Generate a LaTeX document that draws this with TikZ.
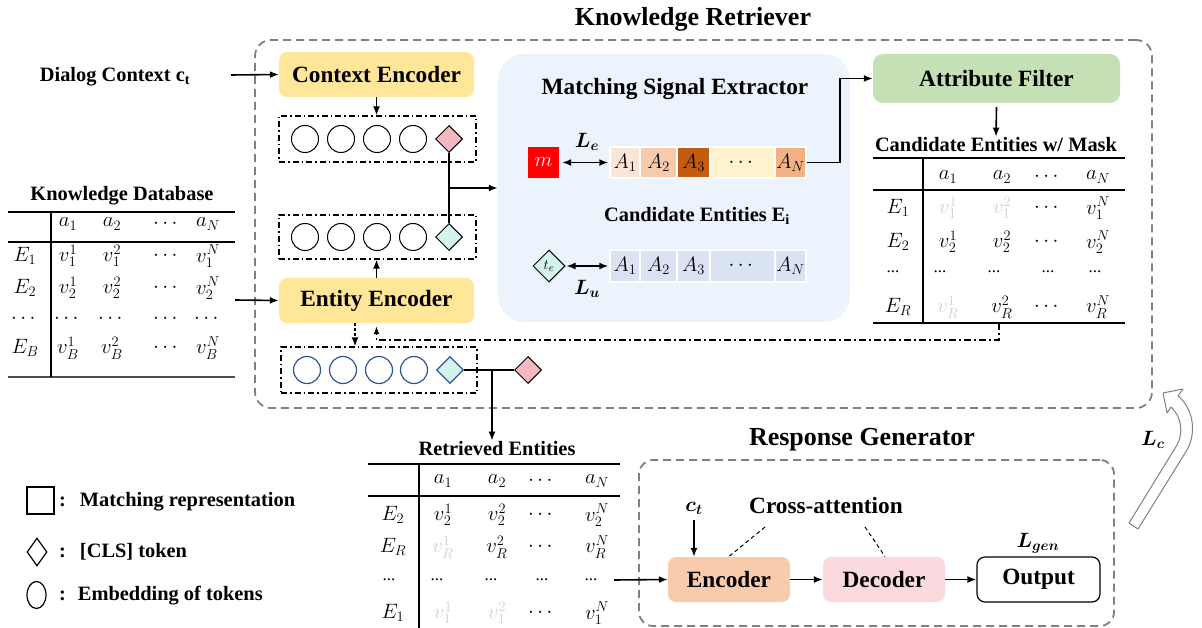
\documentclass[tikz,border=0pt]{standalone}
\usepackage{amsmath,bm}
\usepackage{fontspec}
\setmainfont{Liberation Serif}
\usetikzlibrary{shapes.geometric,arrows.meta,calc}

\definecolor{encyellow}{HTML}{FFE699}
\definecolor{afgreen}{HTML}{C5E0B4}
\definecolor{panelblue}{HTML}{EBF3FD}
\definecolor{clspink}{HTML}{F4B8C1}
\definecolor{clscyan}{HTML}{D4F2EE}
\definecolor{encorange}{HTML}{F8CBAD}
\definecolor{decpink}{HTML}{FADADF}
\definecolor{cellA}{HTML}{FBE5D6}
\definecolor{cellB}{HTML}{F8CBAD}
\definecolor{cellC}{HTML}{C55A11}
\definecolor{cellD}{HTML}{FFF2CC}
\definecolor{cellE}{HTML}{F4B183}
\definecolor{cellL}{HTML}{DAE3F3}
\definecolor{framegray}{HTML}{808080}
\definecolor{tokblue}{HTML}{2F5597}
\definecolor{maskgray}{HTML}{CFCFCF}

\newcommand\fTitle{\bfseries\fontsize{26}{30}\selectfont}
\newcommand\fBox{\bfseries\fontsize{23.3}{27}\selectfont}
\newcommand\fLbl{\bfseries\fontsize{20.4}{24}\selectfont}
\newcommand\fTab{\fontsize{21}{24}\selectfont}

\tikzset{
  ttl/.style={font=\fTitle, inner sep=1pt},
  lbl/.style={font=\fLbl, inner sep=1pt},
  blbl/.style={font=\fBox, inner sep=1pt},
  tcell/.style={font=\fTab, inner sep=0pt},
  frame/.style={draw=framegray, dash pattern=on 8pt off 5pt, line width=1.8pt, rounded corners=16pt},
  encbox/.style={rounded corners=8pt, fill=encyellow, minimum width=195pt, minimum height=45pt, font=\fBox},
  rowbox/.style={draw, line width=1.2pt, dash pattern=on 6pt off 3pt on 1.5pt off 3pt, minimum width=197pt, minimum height=46pt},
  tok/.style={circle, draw, line width=1pt, fill=white, minimum size=27pt, inner sep=0pt},
  btok/.style={tok, draw=tokblue, line width=1.2pt},
  cls/.style={diamond, draw, line width=1pt, minimum size=27pt, inner sep=0pt},
  cell/.style={draw=white, line width=1.5pt, minimum height=31pt, inner sep=0pt, font=\fontsize{22}{24}\selectfont},
  gbox/.style={rounded corners=8pt, minimum width=122pt, minimum height=45pt, font=\fBox},
  arr/.style={-{Latex[length=9pt,width=7pt]}, line width=1.6pt},
  darr/.style={{Latex[length=9pt,width=7pt]}-{Latex[length=9pt,width=7pt]}, line width=1.6pt},
  dashdot/.style={line width=1.4pt, dash pattern=on 7pt off 3pt on 2pt off 3pt},
  rule/.style={line width=1.2pt},
  lossl/.style={inner sep=0pt, font=\fontsize{22}{26}\selectfont},
}

\begin{document}
\begin{tikzpicture}[x=1pt,y=-1pt]
\useasboundingbox (0,0) rectangle (1202,628);

% ---------------- Knowledge Retriever ----------------
\node[frame, minimum width=897pt, minimum height=368pt] (kr) at (703.5,224) {};
\node[ttl] (krt) at (693,19) {Knowledge Retriever};

% matching signal panel (background)
\node[fill=panelblue, rounded corners=26pt, minimum width=352pt, minimum height=268pt] (mse) at (674,188) {};
\node[blbl] (mset) at (675,89) {Matching Signal Extractor};

% encoders
\node[lbl] (dlg) at (115,77) {Dialog Context c\textsubscript{t}};
\coordinate (dlgout) at (231,75);
\node[encbox] (ce) at (376.5,74.5) {Context Encoder};
\node[encbox] (ee) at (376.5,300.5) {Entity Encoder};

% token rows
\node[rowbox] (toprow) at (377.5,139) {};
\node[rowbox, minimum height=44pt] (midrow) at (377.5,237) {};
\node[rowbox, minimum width=196pt] (botrow) at (379,370) {};
\foreach \x [count=\i] in {305,341,377,413} {
  \node[tok] (t1-\i) at (\x,139) {};
  \node[tok] (t2-\i) at (\x,237) {};
}
\foreach \x [count=\i] in {307,343,379,414} {
  \node[btok] (t3-\i) at (\x,370) {};
}
\node[cls, fill=clspink] (pd1) at (449,139) {};
\node[cls, fill=clscyan] (cd1) at (449,237) {};
\node[cls, fill=clscyan, draw=tokblue, line width=1.2pt] (cd2) at (450,370) {};
\node[cls, fill=clspink] (pd2) at (528,370) {};

% connectors around the encoders
\draw[arr] (dlgout) -- (ce.west);
\draw[arr] (ce.south) -- (ce.south |- toprow.north);
\draw[arr] (ee.north) -- (ee.north |- midrow.south);
\draw[line width=1.6pt] (pd1.south) -- (cd1.north);
\coordinate (br1) at (449,188);
\draw[arr] (br1) -- (mse.west |- br1);
\draw[arr, dash pattern=on 3pt off 2pt] ([xshift=-21.5pt]ee.south) -- ([xshift=-24pt]botrow.north);
\draw[line width=1.6pt] (cd2.east) -- (pd2.west);

% ---------------- Knowledge Database table ----------------
\node[lbl] (kbt) at (122,196) {Knowledge Database};
\draw[rule] (8,212) -- (235,212);
\draw[rule] (8,242) -- (235,242);
\draw[rule, draw=black!70] (8,377) -- (235,377);
\draw[rule] (51,212) -- (51,377);
\foreach \x/\t [count=\i] in {68/a_1,112/a_2,167/\cdots,208/a_N}
  \node[tcell] (kb-h-\i) at (\x,224) {$\t$};
\foreach \y/\r [count=\i] in {256/1,288/2,348/B} {
  \node[tcell] (kb-\i-0) at (25,\y) {$E_{\r}$};
  \node[tcell] (kb-\i-1) at (68,\y) {$v_{\r}^{1}$};
  \node[tcell] (kb-\i-2) at (112,\y) {$v_{\r}^{2}$};
  \node[tcell] (kb-\i-3) at (167,\y) {$\cdots$};
  \node[tcell] (kb-\i-4) at (208,\y) {$v_{\r}^{N}$};
}
\foreach \x [count=\i] in {25,68,112,167,208}
  \node[tcell] (kb-d-\i) at (\x,319) {$\cdots$};
\coordinate (kbout) at (235,300);
\draw[arr] (kbout) -- (ee.west);

% ---------------- Matching signal extractor ----------------
\node[fill=red, minimum size=31pt, inner sep=0pt, text=white, font=\fontsize{22}{24}\selectfont] (m) at (543.5,162.5) {$m$};
\node[cell, fill=cellA, minimum width=30pt] (a1) at (625,162.5) {$A_1$};
\node[cell, fill=cellB, minimum width=37pt] (a2) at (658.5,162.5) {$A_2$};
\node[cell, fill=cellC, minimum width=33pt] (a3) at (693.5,162.5) {$A_3$};
\node[cell, fill=cellD, minimum width=65pt] (a4) at (742.5,162.5) {$\cdots$};
\node[cell, fill=cellE, minimum width=31pt] (an) at (790.5,162.5) {$A_N$};
\draw[darr] ([xshift=3pt]m.east) -- ([xshift=-1pt]a1.west);
\node[lossl] (le) at (587,142) {$\bm{L_e}$};

\node[blbl, font=\fLbl] (cet) at (697,216) {Candidate Entities E\textsubscript{i}};

\node[cls, fill=clscyan, minimum size=32pt, font=\fontsize{15}{17}\selectfont] (te) at (549,266) {$t_e$};
\node[cell, fill=cellL, minimum height=32pt, minimum width=30pt] (b1) at (625,266) {$A_1$};
\node[cell, fill=cellL, minimum height=32pt, minimum width=37pt] (b2) at (658.5,266) {$A_2$};
\node[cell, fill=cellL, minimum height=32pt, minimum width=33pt] (b3) at (693.5,266) {$A_3$};
\node[cell, fill=cellL, minimum height=32pt, minimum width=65pt] (b4) at (742.5,266) {$\cdots$};
\node[cell, fill=cellL, minimum height=32pt, minimum width=31pt] (bn) at (790.5,266) {$A_N$};
\draw[darr] ([xshift=1pt]te.east) -- ([xshift=-1pt]b1.west);
\node[lossl] (lu) at (587,289) {$\bm{L_u}$};

% ---------------- Attribute filter ----------------
\node[rounded corners=10pt, fill=afgreen, minimum width=247pt, minimum height=49pt, font=\fBox] (af) at (996.5,78.5) {Attribute Filter};
\draw[arr] (an.east) -- ++(33,0) |- (af.west);
\node[lbl] (candt) at (996,145) {Candidate Entities w/ Mask};
\draw[arr] ([yshift=-4pt]af.south) -- (candt.north);

\draw[rule] (873,158) -- (1125,158);
\draw[rule] (873,190) -- (1125,190);
\draw[rule] (873,323) -- (1125,323);
\draw[rule] (923,158) -- (923,323);
\foreach \x/\t [count=\i] in {948/a_1,1002/a_2,1048/\cdots,1098/a_N}
  \node[tcell] (cf-h-\i) at (\x,177) {$\t$};
\node[tcell] (cf-1-0) at (898,208) {$E_1$};
\node[tcell, text=maskgray] (cf-1-1) at (948,208) {$v_1^1$};
\node[tcell, text=maskgray] (cf-1-2) at (1002,208) {$v_1^2$};
\node[tcell] (cf-1-3) at (1048,208) {$\cdots$};
\node[tcell] (cf-1-4) at (1098,208) {$v_1^N$};
\node[tcell] (cf-2-0) at (898,242) {$E_2$};
\node[tcell] (cf-2-1) at (948,242) {$v_2^1$};
\node[tcell] (cf-2-2) at (1002,242) {$v_2^2$};
\node[tcell] (cf-2-3) at (1048,242) {$\cdots$};
\node[tcell] (cf-2-4) at (1098,242) {$v_2^N$};
\foreach \x [count=\i] in {893,940,994,1048,1095}
  \node[tcell, font=\fontsize{17}{20}\selectfont] (cf-d-\i) at (\x,272) {...};
\node[tcell] (cf-3-0) at (898,307) {$E_R$};
\node[tcell, text=maskgray] (cf-3-1) at (948,307) {$v_R^1$};
\node[tcell] (cf-3-2) at (1002,307) {$v_R^2$};
\node[tcell] (cf-3-3) at (1048,307) {$\cdots$};
\node[tcell] (cf-3-4) at (1098,307) {$v_R^N$};

% masked entities fed back to the entity encoder
\coordinate (cfb) at (999,323);
\draw[dashdot, -{Latex[length=8pt,width=6pt]}] (cfb) -- ++(0,17) -| ([yshift=-3pt]ee.south);

% ---------------- Retrieved entities ----------------
\node[lbl] (rett) at (497,449) {Retrieved Entities};
\coordinate (br2) at (492,370);
\draw[arr] (br2) -- (br2 |- rett.north);
\draw[rule] (368,464) -- (620,464);
\draw[rule] (368,496) -- (620,496);
\draw[rule] (419,464) -- (419,628);
\foreach \x/\t [count=\i] in {443/a_1,497/a_2,542/\cdots,597/a_N}
  \node[tcell] (re-h-\i) at (\x,481) {$\t$};
\node[tcell] (re-1-0) at (393,515) {$E_2$};
\node[tcell] (re-1-1) at (443,515) {$v_2^1$};
\node[tcell] (re-1-2) at (497,515) {$v_2^2$};
\node[tcell] (re-1-3) at (542,515) {$\cdots$};
\node[tcell] (re-1-4) at (597,515) {$v_2^N$};
\node[tcell] (re-2-0) at (393,547) {$E_R$};
\node[tcell, text=maskgray] (re-2-1) at (443,547) {$v_R^1$};
\node[tcell] (re-2-2) at (497,547) {$v_R^2$};
\node[tcell] (re-2-3) at (542,547) {$\cdots$};
\node[tcell] (re-2-4) at (597,547) {$v_R^N$};
\foreach \x [count=\i] in {389,437,491,542,591}
  \node[tcell, font=\fontsize{17}{20}\selectfont] (re-d-\i) at (\x,580) {...};
\node[tcell] (re-3-0) at (393,613) {$E_1$};
\node[tcell, text=maskgray] (re-3-1) at (443,613) {$v_1^1$};
\node[tcell, text=maskgray] (re-3-2) at (497,613) {$v_1^2$};
\node[tcell] (re-3-3) at (542,613) {$\cdots$};
\node[tcell] (re-3-4) at (597,613) {$v_1^N$};

% ---------------- Response Generator ----------------
\node[ttl] (rgt) at (862,440) {Response Generator};
\node[frame, minimum width=475pt, minimum height=166pt, rounded corners=14pt] (rg) at (876.5,543) {};
\node[gbox, fill=encorange] (enc) at (729,579.5) {Encoder};
\node[gbox, fill=decpink] (dec) at (884,579.5) {Decoder};
\node[gbox, draw, fill=white, line width=1.2pt, minimum width=123pt] (out) at (1038.5,579.5) {Output};
\node[lossl] (ct) at (694,508) {$\bm{c_t}$};
\node[blbl] (ca) at (826,506) {Cross-attention};
\node[lossl] (lgen) at (1038,543) {$\bm{L_{gen}}$};
\coordinate (retout) at (614,580);
\draw[arr] (retout) -- (enc.west);
\draw[arr] (enc.east) -- (dec.west);
\draw[arr] (dec.east) -- (out.west);
\draw[arr] ([yshift=-6pt]ct.south) -- (ct.south |- enc.north);
\coordinate (ca1) at (765,527);
\coordinate (ca2) at (865,527);
\draw[line width=1pt, dash pattern=on 4pt off 3pt] (ca1) -- (729,556.5);
\draw[line width=1pt, dash pattern=on 4pt off 3pt] (ca2) -- (885,556.5);

% ---------------- contrastive loss arrow ----------------
\draw[draw=framegray, line width=1pt, fill=white, line join=round]
  (1129,523) -- (1177,445) .. controls (1184,432) and (1181,416) .. (1171,407)
  -- (1167,413) -- (1163,393) -- (1183,389) -- (1178,396)
  .. controls (1193,408) and (1197,432) .. (1187,450) -- (1138,529) -- cycle;
\node[lossl] (lc) at (1153,440) {$\bm{L_c}$};

% ---------------- legend ----------------
\node[draw, line width=1.2pt, minimum size=27pt, inner sep=0pt] (lgsq) at (40.5,500.5) {};
\node[diamond, draw, line width=1.2pt, minimum width=20pt, minimum height=28pt, inner sep=0pt] (lgdi) at (37,552) {};
\node[ellipse, draw, line width=1.2pt, minimum width=19pt, minimum height=27pt, inner sep=0pt] (lgci) at (36.5,595) {};
\node[lbl, anchor=west] (lgt1) at (58,502) {:\hspace{14pt}Matching representation};
\node[lbl, anchor=west] (lgt2) at (58,552) {:\hspace{14pt}[CLS] token};
\node[lbl, anchor=west] (lgt3) at (58,596) {:\hspace{12pt}Embedding of tokens};
\end{tikzpicture}
\end{document}
